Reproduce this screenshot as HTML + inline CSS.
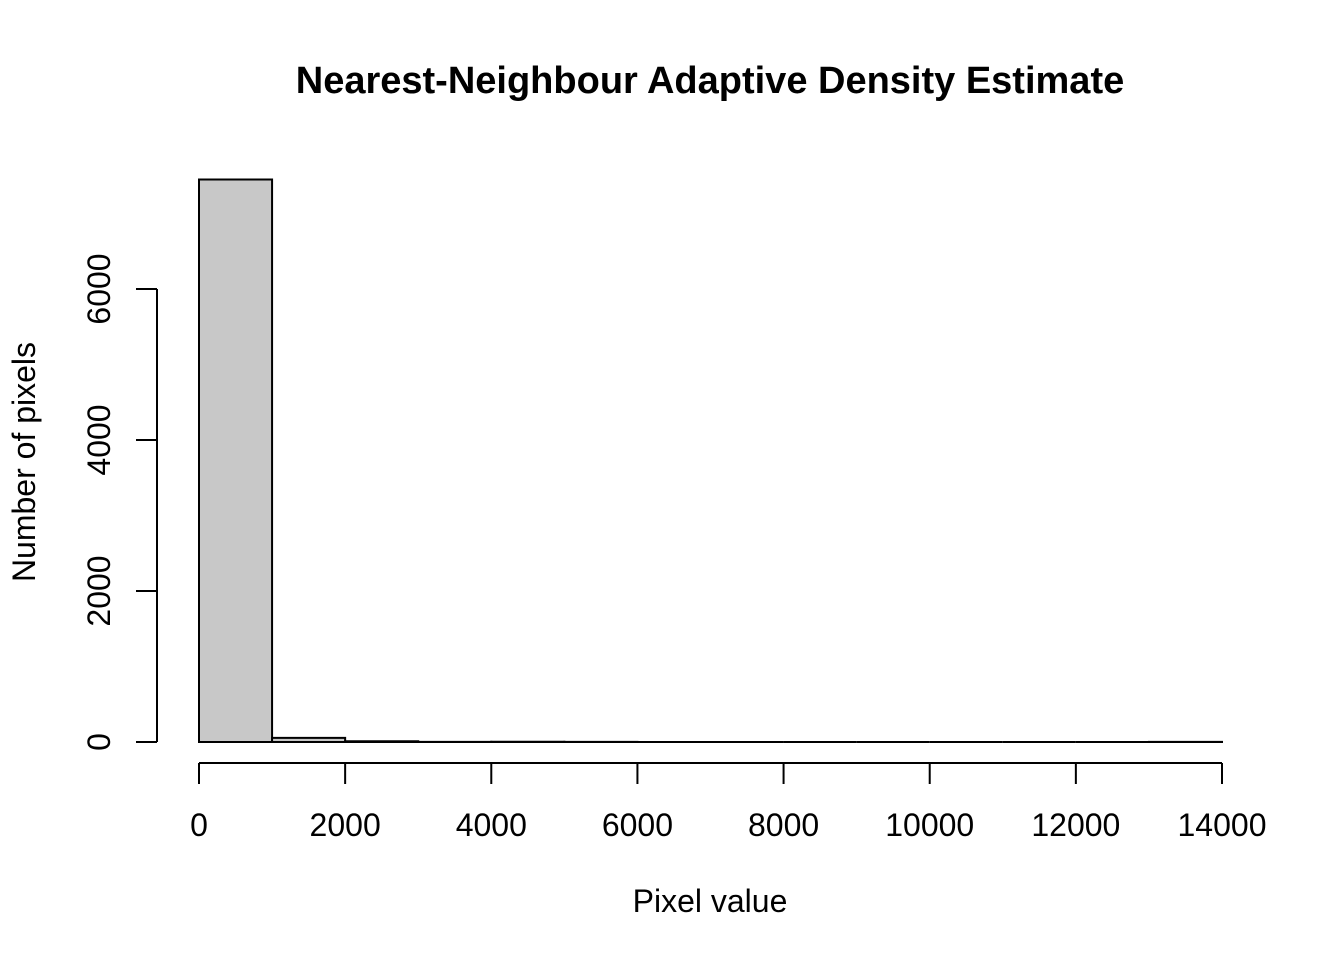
<!DOCTYPE html>
<html><head><meta charset="utf-8"><style>body{margin:0;background:#fff}svg{display:block}text{font-family:"Liberation Sans",Arial,sans-serif}</style></head>
<body>
<svg id="c" width="1344" height="960">
<text x="710" y="93" text-anchor="middle" font-size="38" font-weight="bold">Nearest-Neighbour Adaptive Density Estimate</text>
<text x="710" y="912" text-anchor="middle" font-size="32">Pixel value</text>
<text transform="translate(35,462) rotate(-90)" text-anchor="middle" font-size="32">Number of pixels</text>
<g id="bars"></g><g id="xa"></g><g id="ya"></g>
</svg>
<script>
const binStarts=[0,1000,2000,3000,4000,5000,6000,7000,8000,9000,10000,11000,12000,13000];
const counts=[7450,55,10,1,3,1,0,0,0,0,0,0,0,1];
const xTicks=[0,2000,4000,6000,8000,10000,12000,14000];
const yTicks=[0,2000,4000,6000];
const binWidth=1000;
const NS="http://www.w3.org/2000/svg";
const xs=v=>199+v*(1222-199)/14000;
const ys=v=>742-v*151/2000;
function mk(t,a,p){const e=document.createElementNS(NS,t);for(const k in a)e.setAttribute(k,a[k]);p.appendChild(e);return e;}
const bars=document.getElementById('bars');
binStarts.forEach((b,i)=>{
 const x0=xs(b),x1=xs(b+binWidth),y=ys(counts[i]);
 const r=mk('path',{d:`M${x0},742V${y}H${x1}V742Z`,fill:'#c8c8c8',stroke:'#000','stroke-width':2},bars);
 
 
});
const xa=document.getElementById('xa');
const xl=mk('line',{x1:xs(xTicks[0]),x2:xs(xTicks[xTicks.length-1]),y1:763,y2:763,stroke:'#000','stroke-width':2},xa);


xTicks.forEach(t=>{
 mk('line',{x1:xs(t),x2:xs(t),y1:763,y2:784,stroke:'#000','stroke-width':2},xa);
 const tx=mk('text',{x:xs(t),y:836,'text-anchor':'middle','font-size':32},xa);
 tx.textContent=t;
 
 
});
const ya=document.getElementById('ya');
const yl=mk('line',{x1:157,x2:157,y1:ys(yTicks[0]),y2:ys(yTicks[yTicks.length-1]),stroke:'#000','stroke-width':2},ya);


yTicks.forEach(t=>{
 mk('line',{x1:136,x2:157,y1:ys(t),y2:ys(t),stroke:'#000','stroke-width':2},ya);
 const tx=mk('text',{transform:`translate(110,${ys(t)}) rotate(-90)`,'text-anchor':'middle','font-size':32},ya);
 tx.textContent=t;
 
 
});
</script>
</body></html>
